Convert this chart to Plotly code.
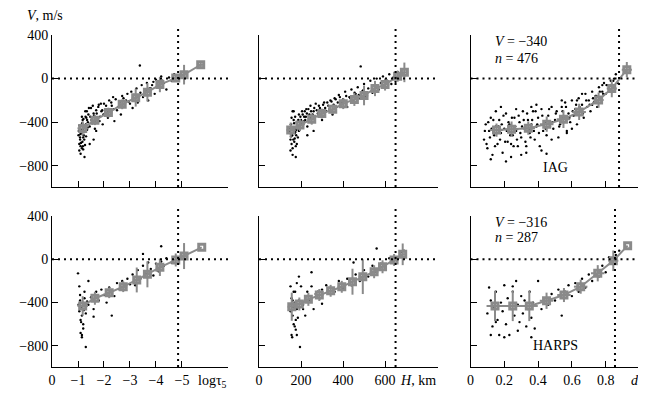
import plotly.graph_objects as go

# ---- data ---------------------------------------------------------------
# binned means (gray squares) with errors, per panel
# top row: IAG, bottom row: HARPS ; columns: log tau5, H (km), depth d

iag_tau_x = [-1.18, -1.65, -2.17, -2.70, -3.22, -3.67, -4.15, -4.76, -5.08, -5.72]
iag_tau_v = [-457, -382, -312, -236, -175, -125, -55, 6, 36, 127]
iag_tau_ex = [0.2, 0.15, 0.15, 0.15, 0.15, 0.15, 0.15, 0.12, 0.12, 0.12]
iag_tau_ev = [65, 45, 45, 45, 82, 85, 70, 35, 90, 25]

iag_h_x = [151, 195, 251, 299, 351, 401, 454, 500, 552, 600, 660, 692]
iag_h_v = [-473, -427, -373, -321, -282, -230, -191, -155, -91, -55, 21, 57]
iag_h_ex = [20, 20, 20, 20, 20, 20, 20, 20, 20, 20, 18, 18]
iag_h_ev = [70, 55, 50, 45, 45, 50, 60, 90, 70, 55, 50, 90]

iag_d_x = [0.154, 0.243, 0.342, 0.451, 0.550, 0.643, 0.758, 0.836, 0.925]
iag_d_v = [-473, -464, -455, -418, -373, -306, -197, -91, 82]
iag_d_ex = [0.04, 0.04, 0.04, 0.04, 0.04, 0.04, 0.03, 0.03, 0.03]
iag_d_ev = [60, 70, 60, 70, 80, 75, 70, 80, 70]

harps_tau_x = [-1.18, -1.65, -2.20, -2.74, -3.26, -3.67, -4.15, -4.76, -5.08, -5.76]
harps_tau_v = [-431, -360, -309, -253, -191, -139, -74, -6, 30, 111]
harps_tau_ex = [0.2, 0.15, 0.15, 0.15, 0.15, 0.15, 0.15, 0.12, 0.12, 0]
harps_tau_ev = [90, 60, 50, 50, 115, 120, 80, 60, 120, 0]

harps_h_x = [156, 192, 235, 287, 341, 394, 445, 494, 548, 588, 643, 684]
harps_h_v = [-438, -413, -370, -330, -291, -254, -207, -161, -115, -69, -6, 46]
harps_h_ex = [20, 20, 20, 20, 20, 20, 20, 20, 20, 20, 18, 18]
harps_h_ev = [130, 60, 60, 55, 55, 55, 120, 160, 60, 60, 55, 100]

harps_d_x = [0.145, 0.250, 0.348, 0.450, 0.553, 0.652, 0.753, 0.845, 0.930]
harps_d_v = [-431, -431, -431, -383, -330, -253, -129, -13, 126]
harps_d_ex = [0.05, 0.05, 0.05, 0.04, 0.04, 0.04, 0.04, 0.03, 0]
harps_d_ev = [140, 140, 140, 75, 65, 65, 75, 95, 0]

# individual lines (black dots)
tl_x = [-1.02, -1.05, -1.07, -1.08, -1.10, -1.12, -1.13, -1.15, -1.17, -1.18, -1.20, -1.22, -1.25, -1.27, -1.30, -1.32, -1.35, -1.38, -1.40, -1.45,
        -1.05, -1.08, -1.12, -1.15, -1.18, -1.22, -1.28, -1.35, -1.10, -1.20,
        -1.50, -1.55, -1.60, -1.65, -1.70, -1.75, -1.80, -1.85, -1.90, -1.95, -2.00, -2.05, -2.10, -2.15, -2.20, -2.25, -2.30, -2.40, -2.45, -2.50,
        -2.60, -2.65, -2.70, -2.80, -2.85, -2.90, -3.00, -3.05, -3.10, -3.20, -3.25, -3.30, -3.40, -3.45, -3.50, -3.60, -3.65, -3.70, -3.80, -3.90,
        -3.95, -4.00, -4.10, -4.20, -4.30, -4.40, -4.50, -4.60, -4.70, -3.38, -1.60, -1.45, -2.35, -1.25, -1.70,
        -1.03, -1.06, -1.09, -1.11, -1.14, -1.16, -1.19, -1.21, -1.24, -1.26, -1.29, -1.31, -1.34, -1.37,
        -1.42, -1.47, -1.52, -1.57, -1.62, -1.67, -1.72, -1.78, -1.83, -1.88, -1.93, -1.98,
        -2.08, -2.18, -2.28, -2.38, -2.55, -2.75, -2.95, -3.15, -3.35, -3.55, -3.75, -3.85, -4.05, -4.25]
tl_v = [-520, -600, -470, -560, -620, -430, -500, -640, -580, -380, -540, -450, -490, -610, -420, -360, -470, -400, -330, -440,
        -660, -540, -590, -350, -470, -520, -300, -380, -690, -650,
        -270, -410, -320, -460, -290, -380, -240, -350, -300, -420, -230, -330, -280, -360, -200, -310, -250, -390, -190, -290,
        -220, -330, -160, -250, -200, -140, -230, -120, -270, -180, -90, -220, -130, -60, -170, -110, -40, -200, -90, -30,
        -140, -10, -70, 20, -40, -100, 10, -20, 40, 120, -560, -600, -170, -720, -480,
        -480, -430, -510, -590, -470, -410, -620, -370, -560, -440, -350, -530, -300, -450,
        -270, -350, -380, -250, -340, -400, -320, -260, -390, -230, -290, -330,
        -250, -300, -220, -280, -260, -180, -210, -150, -160, -130, -90, -60, -50, -20]

tm_x = [145, 150, 152, 155, 158, 160, 162, 165, 168, 170, 172, 175, 178, 180, 185, 190, 195, 200, 150, 160,
        165, 170, 175, 180, 155, 148, 190, 205, 210, 215,
        220, 225, 230, 240, 245, 250, 260, 265, 270, 280, 290, 300, 310, 320, 330, 340, 350, 360, 370, 380,
        390, 400, 410, 420, 430, 440, 450, 460, 470, 480, 490, 500, 510, 520, 530, 540, 550, 560, 570, 580,
        590, 600, 610, 620, 630, 640, 650, 660, 670, 484, 230, 175, 260, 160,
        147, 153, 157, 163, 167, 173, 177, 183, 187, 193, 197, 203, 208, 213, 218, 223, 228, 235, 243, 248,
        255, 263, 275, 285, 295, 305, 315, 325, 335, 345, 355, 365, 375, 385, 395, 415, 435, 455, 475, 495]
tm_v = [-480, -560, -420, -600, -520, -640, -450, -380, -580, -500, -350, -620, -470, -400, -540, -330, -430, -380, -660, -700,
        -300, -550, -450, -600, -360, -500, -480, -300, -420, -350,
        -380, -280, -440, -330, -250, -400, -300, -360, -230, -320, -270, -380, -220, -300, -250, -200, -330, -180, -260, -150,
        -230, -190, -120, -260, -170, -100, -210, -140, -80, -180, -120, -50, -160, -90, -20, -130, -60, 0, -100, -40,
        20, -80, -20, 40, -50, 10, -30, 60, 30, 112, -520, -720, -480, -300,
        -450, -530, -470, -560, -410, -490, -520, -440, -380, -470, -350, -410, -330, -390, -300, -350, -320, -280, -360, -300,
        -330, -270, -290, -250, -300, -240, -270, -220, -280, -210, -240, -190, -220, -170, -210, -160, -180, -130, -150, -110]

tr_x = [0.08, 0.09, 0.10, 0.11, 0.12, 0.13, 0.14, 0.15, 0.16, 0.17, 0.18, 0.19, 0.20, 0.21, 0.22, 0.23, 0.24, 0.25, 0.26, 0.27,
        0.28, 0.29, 0.30, 0.31, 0.32, 0.33, 0.34, 0.35, 0.36, 0.37, 0.38, 0.39, 0.40, 0.41, 0.42, 0.43, 0.44, 0.45, 0.46, 0.47,
        0.48, 0.49, 0.50, 0.51, 0.52, 0.53, 0.54, 0.55, 0.56, 0.57, 0.58, 0.59, 0.60, 0.61, 0.62, 0.63, 0.64, 0.65, 0.66, 0.67,
        0.68, 0.69, 0.70, 0.71, 0.72, 0.73, 0.74, 0.75, 0.76, 0.77, 0.78, 0.79, 0.80, 0.81, 0.82, 0.83, 0.84, 0.85, 0.86, 0.87,
        0.12, 0.18, 0.24, 0.30, 0.36, 0.42, 0.48, 0.54, 0.60, 0.66, 0.15, 0.27, 0.33, 0.45, 0.57, 0.39, 0.21, 0.63, 0.72, 0.78,
        0.085, 0.095, 0.105, 0.115, 0.125, 0.135, 0.145, 0.155, 0.165, 0.175, 0.185, 0.195, 0.205, 0.215, 0.225, 0.235, 0.245,
        0.255, 0.265, 0.275, 0.285, 0.295, 0.305, 0.315, 0.325, 0.335, 0.345, 0.355, 0.365, 0.375, 0.385, 0.395, 0.405,
        0.425, 0.445, 0.465, 0.485, 0.505, 0.525, 0.545, 0.565, 0.585, 0.605, 0.625, 0.645, 0.665, 0.685, 0.705, 0.725,
        0.745, 0.765, 0.785, 0.805, 0.825, 0.845]
tr_v = [-560, -420, -640, -480, -360, -700, -520, -440, -600, -380, -500, -680, -460, -320, -580, -420, -720, -520, -360, -480,
        -620, -400, -540, -300, -460, -680, -380, -500, -420, -300, -560, -440, -360, -620, -280, -480, -400, -520, -340, -440,
        -260, -460, -380, -300, -540, -420, -260, -360, -220, -480, -320, -400, -200, -340, -280, -420, -180, -300, -240, -360,
        -140, -260, -200, -300, -120, -220, -160, -260, -80, -180, -120, -40, -140, -60, -100, -20, -80, 0, 40, -40,
        -740, -260, -600, -700, -260, -660, -560, -200, -460, -140, -300, -280, -620, -690, -500, -240, -760, -200, -240, -60,
        -480, -600, -400, -540, -460, -380, -620, -500, -440, -560, -420, -340, -580, -480, -400, -520, -360,
        -620, -440, -560, -340, -500, -440, -380, -580, -320, -460, -540, -380, -480, -300, -420, -500,
        -340, -460, -280, -400, -320, -440, -300, -260, -360, -300, -240, -260, -320, -200, -240, -180,
        -160, -120, -140, -60, -60, -20]

bl_x = [-1.02, -1.05, -1.08, -1.10, -1.12, -1.15, -1.18, -1.20, -1.22, -1.25, -1.28, -1.30, -1.35, -1.05, -1.10, -1.15, -1.20, -1.08, -1.12, -1.25,
        -1.40, -1.50, -1.60, -1.70, -1.80, -1.90, -2.00, -2.10, -2.20, -2.30, -2.40, -2.50, -2.60, -2.70, -2.80, -2.90, -3.00, -3.10, -3.20, -3.30,
        -3.40, -3.50, -3.60, -3.70, -3.80, -3.90, -4.00, -4.10, -4.20, -4.30, -4.40, -4.60, -4.20, -3.50, -1.60, -2.30, -1.30, -1.00, -1.15, -1.40]
bl_v = [-420, -480, -380, -560, -450, -520, -400, -600, -470, -360, -430, -500, -390, -250, -680, -720, -640, -330, -580, -300,
        -420, -350, -460, -300, -380, -280, -330, -400, -260, -300, -340, -220, -280, -200, -250, -180, -230, -140, -240, -100,
        -180, -60, -130, -30, -90, -150, -40, -110, -20, -60, 10, -30, 120, 50, -530, -520, -810, -130, -700, -200]

bm_x = [145, 150, 155, 160, 162, 165, 170, 172, 175, 180, 185, 190, 150, 158, 165, 175, 180, 160, 170, 195,
        200, 210, 220, 230, 240, 250, 260, 270, 280, 290, 300, 320, 340, 360, 380, 400, 420, 440, 460, 480,
        500, 520, 540, 560, 580, 600, 620, 640, 660, 680, 250, 300, 190, 155, 170, 450, 560, 690, 210, 180]
bm_v = [-420, -480, -360, -520, -440, -600, -400, -300, -650, -460, -540, -380, -250, -720, -300, -560, -700, -380, -460, -810,
        -250, -420, -520, -300, -380, -250, -460, -320, -300, -360, -280, -240, -320, -300, -200, -270, -180, -240, -140, -200,
        -100, -160, -60, -120, -40, -80, 10, -20, 20, 70, -120, -410, -160, -700, -620, -30, 100, 80, -460, -220]

br_x = [0.10, 0.11, 0.12, 0.13, 0.14, 0.15, 0.16, 0.17, 0.18, 0.19, 0.20, 0.21, 0.22, 0.23, 0.24, 0.25, 0.26, 0.27, 0.28, 0.29,
        0.30, 0.31, 0.32, 0.33, 0.34, 0.35, 0.36, 0.37, 0.38, 0.40, 0.42, 0.44, 0.46, 0.48, 0.50, 0.52, 0.54, 0.56, 0.58, 0.60,
        0.62, 0.64, 0.66, 0.68, 0.70, 0.72, 0.74, 0.76, 0.78, 0.80, 0.82, 0.84, 0.86, 0.88, 0.12, 0.20, 0.28, 0.36, 0.25, 0.15]
br_v = [-500, -260, -380, -620, -440, -300, -560, -700, -400, -480, -240, -600, -360, -700, -460, -300, -520, -200, -420, -580,
        -340, -500, -380, -620, -460, -300, -540, -400, -640, -200, -460, -360, -420, -320, -380, -280, -520, -300, -240, -340,
        -220, -300, -180, -260, -140, -200, -100, -160, -60, -120, 20, -40, 40, 80, -700, -720, -660, -720, -250, -580]

# reference lines (zero crossing of V)
vline_tau = [-4.85, -4.85]
vline_h = [650, 650]
vline_d = [0.879, 0.855]

tau_ticks = [0, -1, -2, -3, -4, -5]
tau_labels = ["0", "−1", "−2", "−3", "−4", "−5"]
h_ticks = [0, 200, 400, 600]
h_labels = ["0", "200", "400", "600"]
d_ticks = [0, 0.2, 0.4, 0.6, 0.8]
d_labels = ["0", "0.2", "0.4", "0.6", "0.8"]
v_ticks = [400, 0, -400, -800]
v_labels = ["400", "0", "−400", "−800"]

# ---- styling --------------------------------------------------------------
# the page body keeps its default 8px margin, so the figure is drawn 8px in
OFF = 8
W, H = 646 - OFF, 394 - OFF
FONT = "Liberation Serif, Times New Roman, serif"
GRAY = "#8a8a8a"
COL_PX = [(52, 228), (259, 438), (470.5, 640)]
ROW_PX = [(35, 187), (216, 367)]
X_RANGES = [[0, -6.77], [0, 852], [0, 1.003]]
Y_RANGE = [-995, 400]


def px_x(p):
    return (p - OFF) / W


def px_y(p):
    return 1 - (p - OFF) / H


fig = go.Figure()

panels = [
    (tl_x, tl_v, iag_tau_x, iag_tau_v, iag_tau_ex, iag_tau_ev),
    (tm_x, tm_v, iag_h_x, iag_h_v, iag_h_ex, iag_h_ev),
    (tr_x, tr_v, iag_d_x, iag_d_v, iag_d_ex, iag_d_ev),
    (bl_x, bl_v, harps_tau_x, harps_tau_v, harps_tau_ex, harps_tau_ev),
    (bm_x, bm_v, harps_h_x, harps_h_v, harps_h_ex, harps_h_ev),
    (br_x, br_v, harps_d_x, harps_d_v, harps_d_ex, harps_d_ev),
]
ticks = [(tau_ticks, tau_labels), (h_ticks, h_labels), (d_ticks, d_labels)]
vlines = [vline_tau, vline_h, vline_d]

for i, (sx, sv, mx, mv, ex, ev) in enumerate(panels):
    row, col = divmod(i, 3)
    n = "" if i == 0 else str(i + 1)
    xa, ya = "x" + n, "y" + n

    # scattered points
    fig.add_trace(go.Scatter(
        x=sx, y=sv, mode="markers", xaxis=xa, yaxis=ya,
        marker=dict(size=2.4, color="black"), showlegend=False,
    ))
    # binned means
    fig.add_trace(go.Scatter(
        x=mx, y=mv, mode="lines+markers", xaxis=xa, yaxis=ya,
        line=dict(color=GRAY, width=2),
        marker=dict(symbol="square-open", size=6, color=GRAY, line=dict(width=3, color=GRAY)),
        error_x=dict(type="data", array=ex, color=GRAY, thickness=2, width=0),
        error_y=dict(type="data", array=ev, color=GRAY, thickness=2, width=0),
        showlegend=False,
    ))

    tv, tt = ticks[col]
    x0, x1 = COL_PX[col]
    y0, y1 = ROW_PX[row]
    axis_common = dict(
        showline=True, linecolor="black", linewidth=1,
        ticks="inside", ticklen=6, tickcolor="black", tickwidth=1,
        showgrid=False, zeroline=False,
        tickfont=dict(family=FONT, size=14, color="black"),
    )
    fig.layout["xaxis" + n] = dict(
        domain=[px_x(x0), px_x(x1)], anchor=ya, range=X_RANGES[col],
        tickmode="array", tickvals=tv, ticktext=tt,
        showticklabels=(row == 1), **axis_common,
    )
    fig.layout["yaxis" + n] = dict(
        domain=[px_y(y1), px_y(y0)], anchor=xa, range=Y_RANGE,
        tickmode="array", tickvals=v_ticks, ticktext=v_labels,
        showticklabels=(col == 0), **axis_common,
    )

    # dotted guides
    dot = dict(color="black", width=2, dash="2px,4px")
    fig.add_shape(type="line", xref=xa + " domain", yref=ya, x0=0, x1=1, y0=0, y1=0, line=dot)
    fig.add_shape(type="line", xref=xa, yref=ya + " domain", x0=vlines[col][row], x1=vlines[col][row],
                  y0=0, y1=1.05, line=dot)


# ---- text ---------------------------------------------------------------
def label(text, x, y, anchor="center", size=14):
    fig.add_annotation(text=text, x=px_x(x), y=px_y(y), xref="paper", yref="paper",
                       xanchor=anchor, yanchor="middle", showarrow=False,
                       font=dict(family=FONT, size=size, color="black"))


label("<i>V</i>, m/s", 25, 16, "left")
label("<i>V</i> = −340", 493, 42, "left")
label("<i>n</i> = 476", 493, 58, "left")
label("IAG", 555, 167)
label("<i>V</i> = −316", 493, 222, "left")
label("<i>n</i> = 287", 493, 237, "left")
label("HARPS", 555, 345)
label("logτ<sub>5</sub>", 196, 381, "left")
label("<i>H</i>, km", 398, 380, "left")
label("<i>d</i>", 635, 380)

fig.update_layout(
    width=W, height=H,
    template="none",
    margin=dict(l=0, r=0, t=0, b=0),
    paper_bgcolor="white", plot_bgcolor="white",
    font=dict(family=FONT, size=14, color="black"),
    showlegend=False,
)

fig.write_html("out.html")
